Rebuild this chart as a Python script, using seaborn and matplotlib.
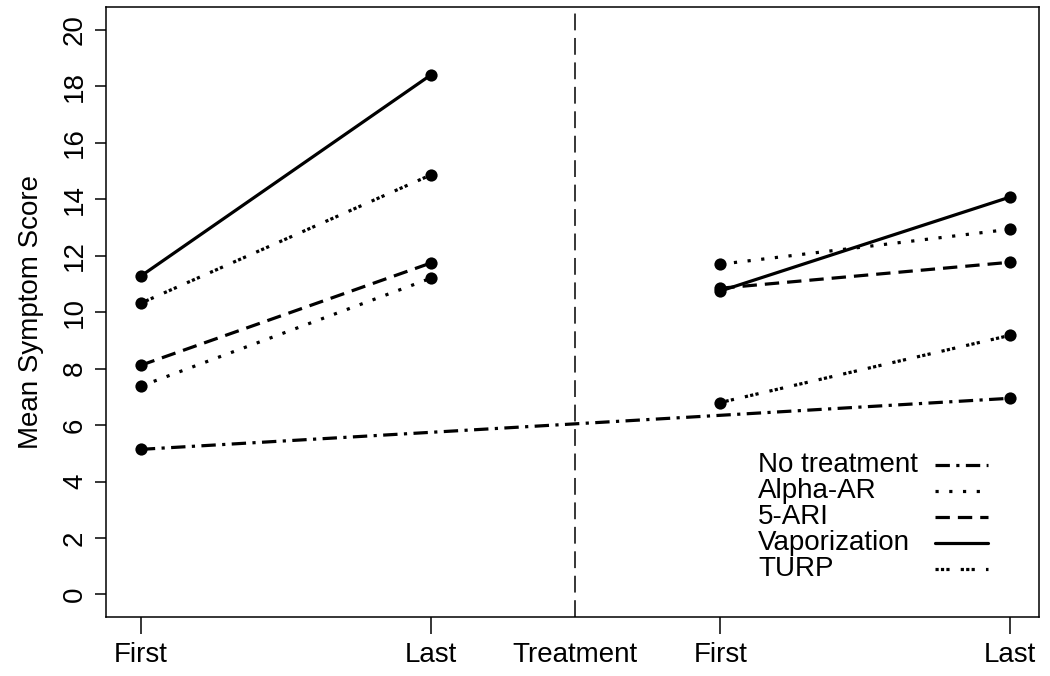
import matplotlib
matplotlib.use('Agg')
import matplotlib.pyplot as plt
from matplotlib.lines import Line2D
import numpy as np
import pandas as pd
import seaborn as sns

# values
treatments = ['No treatment', 'Alpha-AR', '5-ARI', 'Vaporization', 'TURP']
pre_first = [5.14, 7.38, 8.12, 11.28, 10.32]
pre_last = [None, 11.2, 11.74, 18.4, 14.86]
post_first = [None, 11.7, 10.85, 10.75, 6.8]
post_last = [6.95, 12.94, 11.77, 14.08, 9.18]
tick_labels = ['First', 'Last', 'Treatment', 'First', 'Last']
tick_pos = [1, 2, 2.5, 3, 4]

# dash patterns (in units of line width)
dash_map = {
    'No treatment': (4.5, 2, 1, 2),
    'Alpha-AR': (1, 3.3),
    '5-ARI': (4.5, 2.5),
    'Vaporization': '',
    'TURP': (1, 0.7, 1, 0.7, 1, 3.5),
}

rows = []
for i, t in enumerate(treatments):
    if pre_last[i] is None:
        # untreated group: one line from first visit to last visit
        rows.append((t, t + '_all', 1, pre_first[i]))
        rows.append((t, t + '_all', 4, post_last[i]))
    else:
        rows.append((t, t + '_pre', 1, pre_first[i]))
        rows.append((t, t + '_pre', 2, pre_last[i]))
        rows.append((t, t + '_post', 3, post_first[i]))
        rows.append((t, t + '_post', 4, post_last[i]))
df = pd.DataFrame(rows, columns=['treatment', 'seg', 'x', 'y'])

sns.set_style('ticks')
plt.rcParams['font.family'] = ['Liberation Sans', 'DejaVu Sans']
plt.rcParams['font.size'] = 20
for k in ['text.color', 'axes.labelcolor', 'xtick.color', 'ytick.color']:
    plt.rcParams[k] = 'black'

fig, ax = plt.subplots(figsize=(10.5, 6.76), dpi=100)
fig.subplots_adjust(left=0.101, right=0.9895, bottom=0.0873, top=0.989)

sns.lineplot(data=df, x='x', y='y', style='treatment', units='seg',
             estimator=None, sort=False, dashes=dash_map,
             markers={t: 'o' for t in treatments}, color='black',
             linewidth=2.3, markersize=8.8, markeredgewidth=0,
             legend=False, ax=ax)

ax.axvline(2.5, color='black', linewidth=1.1, dashes=(11, 5))

ax.set_xlim(0.88, 4.1)
ax.set_ylim(-0.8, 20.8)
ax.set_xticks(tick_pos)
ax.set_xticklabels(tick_labels)
ax.xaxis.get_major_ticks()[2].tick1line.set_visible(False)
ax.set_yticks(range(0, 21, 2))
ax.set_yticklabels([str(v) for v in range(0, 21, 2)], rotation=90, va='center')
ax.tick_params(axis='x', length=12, width=1.1, pad=6, labelsize=20)
ax.tick_params(axis='y', length=8, width=1.1, pad=5, labelsize=20)
ax.set_xlabel('')
ax.set_ylabel('Mean Symptom Score', fontsize=20, labelpad=13)
for s in ax.spines.values():
    s.set_visible(True)
    s.set_linewidth(1.1)
    s.set_color('black')

# legend: labels left-aligned, line samples to the right (axes fractions)
leg_text_x = 0.699
leg_line_x = (0.889, 0.945)
leg_top = 0.249
leg_step = 0.0427
for i, t in enumerate(treatments):
    yy = leg_top - i * leg_step
    ax.text(leg_text_x, yy, t, transform=ax.transAxes, ha='left',
            va='center', fontsize=20)
    ls = '-' if dash_map[t] == '' else (0, dash_map[t])
    ax.add_line(Line2D(leg_line_x, [yy, yy], transform=ax.transAxes,
                       color='black', linewidth=2.3, linestyle=ls))

fig.savefig('out.png', dpi=100)
